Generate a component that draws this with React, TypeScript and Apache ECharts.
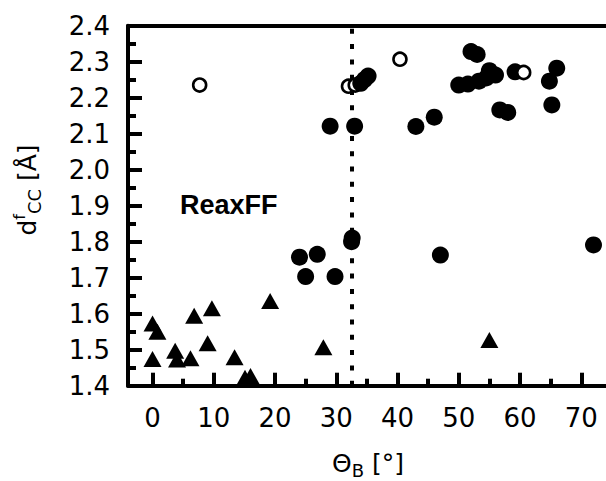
import React, { useEffect, useRef } from "react";
import * as echarts from "echarts";

// Reference data
const triangles: [number, number][] = [
  [0, 1.573], [0.8, 1.55], [0, 1.474], [3.7, 1.497], [4.0, 1.473], [6.2, 1.476],
  [6.8, 1.594], [9.0, 1.518], [9.7, 1.615], [13.4, 1.479], [15.1, 1.422], [16.0, 1.427],
  [19.2, 1.635], [27.9, 1.507], [55.0, 1.527],
];
const filledCircles: [number, number][] = [
  [24.0, 1.757], [25.0, 1.703], [26.9, 1.765], [29.8, 1.703], [32.5, 1.8], [32.6, 1.81],
  [29.0, 2.121], [33.0, 2.121], [34.0, 2.24], [34.6, 2.25], [35.2, 2.26], [43.0, 2.12],
  [46.0, 2.146], [47.0, 1.763], [50.0, 2.235], [51.5, 2.238], [52.0, 2.328], [53.0, 2.32],
  [53.3, 2.246], [54.5, 2.255], [55.0, 2.275], [56.0, 2.263], [56.7, 2.166], [58.0, 2.159],
  [59.2, 2.272], [64.8, 2.246], [65.2, 2.18], [66.0, 2.282], [72.0, 1.791],
];
// open circles drawn beneath the filled ones
const openCirclesBack: [number, number][] = [
  [7.7, 2.235], [32.0, 2.232], [33.1, 2.235], [40.4, 2.307],
];
// open circles drawn above the filled ones
const openCirclesFront: [number, number][] = [
  [60.6, 2.27],
];
const xMajorTicks = [0, 10, 20, 30, 40, 50, 60, 70];
const xMinorTicks = [5, 15, 25, 35, 45, 55, 65, 75];
const dividerX = 32.5;

const X_MIN = -4;
const X_MAX = 76;
const Y_MIN = 1.4;
const Y_MAX = 2.4;

export default function App() {
  const ref = useRef<HTMLDivElement>(null);
  useEffect(() => {
    if (!ref.current) return;
    const chart = echarts.init(ref.current, undefined, { renderer: "svg" });
    const black = "#000";
    const tickFont = { fontFamily: "DejaVu Sans", fontSize: 26, color: black };
    const openStyle = { color: "#fff", borderColor: black, borderWidth: 2.6, opacity: 1 };
    const option: any = {
      animation: false,
      backgroundColor: "#fff",
      grid: { left: 128, top: 25.7, height: 360, width: 490, outerBoundsMode: "none", containLabel: false },
      xAxis: [
        {
          type: "value", min: X_MIN, max: X_MAX, position: "bottom",
          axisLine: { show: true, onZero: false, lineStyle: { color: black, width: 4 } },
          axisTick: { show: true, inside: true, length: 13, customValues: xMajorTicks, lineStyle: { color: black, width: 4 } },
          axisLabel: { show: true, customValues: xMajorTicks, margin: 19, ...tickFont },
          splitLine: { show: false },
        },
        {
          type: "value", min: X_MIN, max: X_MAX, position: "bottom",
          axisLine: { show: false, onZero: false },
          axisTick: { show: true, inside: true, length: 7, customValues: xMinorTicks, lineStyle: { color: black, width: 4 } },
          axisLabel: { show: false },
          splitLine: { show: false },
        },
        {
          type: "value", min: X_MIN, max: X_MAX, position: "top",
          axisLine: { show: true, onZero: false, lineStyle: { color: black, width: 4 } },
          axisTick: { show: false },
          axisLabel: { show: false },
          splitLine: { show: false },
        },
      ],
      yAxis: {
        type: "value", min: Y_MIN, max: Y_MAX, interval: 0.1, position: "left",
        axisLine: { show: true, onZero: false, lineStyle: { color: black, width: 4 } },
        axisTick: { show: true, inside: true, length: 14, lineStyle: { color: black, width: 4 } },
        minorTick: { show: true, splitNumber: 2, length: 8, lineStyle: { color: black, width: 4 } },
        axisLabel: { margin: 18, formatter: (v: number) => v.toFixed(1), ...tickFont },
        splitLine: { show: false },
      },
      series: [
        {
          type: "scatter", xAxisIndex: 0, data: triangles, symbol: "triangle",
          symbolSize: [18, 16], itemStyle: { color: black, opacity: 1 },
          markLine: {
            silent: true, symbol: "none", label: { show: false },
            lineStyle: { color: black, width: 4, type: [5, 10.3], opacity: 1 },
            data: [{ xAxis: dividerX }],
          },
        },
        {
          type: "scatter", xAxisIndex: 0, data: openCirclesBack, symbol: "circle",
          symbolSize: 13, itemStyle: openStyle,
        },
        {
          type: "scatter", xAxisIndex: 0, data: filledCircles, symbol: "circle",
          symbolSize: 17, itemStyle: { color: black, opacity: 1 },
        },
        {
          type: "scatter", xAxisIndex: 0, data: openCirclesFront, symbol: "circle",
          symbolSize: 13, itemStyle: openStyle,
        },
      ],
      graphic: [
        {
          type: "text", left: 180, top: 191,
          style: { text: "ReaxFF", font: "bold 27px 'Liberation Sans', Arial, sans-serif", fill: black },
        },
        {
          type: "text", x: 27, y: 190, rotation: Math.PI / 2,
          style: {
            text: "{m|d}{sup|f}{sub|CC}{m| [Å]}",
            align: "center", verticalAlign: "middle", textAlign: "center", textVerticalAlign: "middle",
            fill: black,
            rich: {
              m: { fontFamily: "DejaVu Sans", fontSize: 25, lineHeight: 32, fill: black, color: black },
              sup: { fontFamily: "DejaVu Sans", fontSize: 16, lineHeight: 16, verticalAlign: "top", fill: black, color: black },
              sub: { fontFamily: "DejaVu Sans", fontSize: 18, lineHeight: 18, verticalAlign: "bottom", fill: black, color: black },
            },
          },
        },
        {
          type: "text", x: 368, y: 463,
          style: {
            text: "{m|Θ}{sub|B}{m| [°]}",
            align: "center", verticalAlign: "middle", textAlign: "center", textVerticalAlign: "middle",
            fill: black,
            rich: {
              m: { fontFamily: "DejaVu Sans", fontSize: 25, lineHeight: 32, fill: black, color: black },
              sub: { fontFamily: "DejaVu Sans", fontSize: 18, lineHeight: 16, verticalAlign: "bottom", fill: black, color: black },
            },
          },
        },
      ],
    };
    chart.setOption(option);
    return () => chart.dispose();
  }, []);
  return (
    <div
      ref={ref}
      style={{ position: "absolute", left: 0, top: 0, width: 606, height: 481, background: "#fff" }}
    />
  );
}
